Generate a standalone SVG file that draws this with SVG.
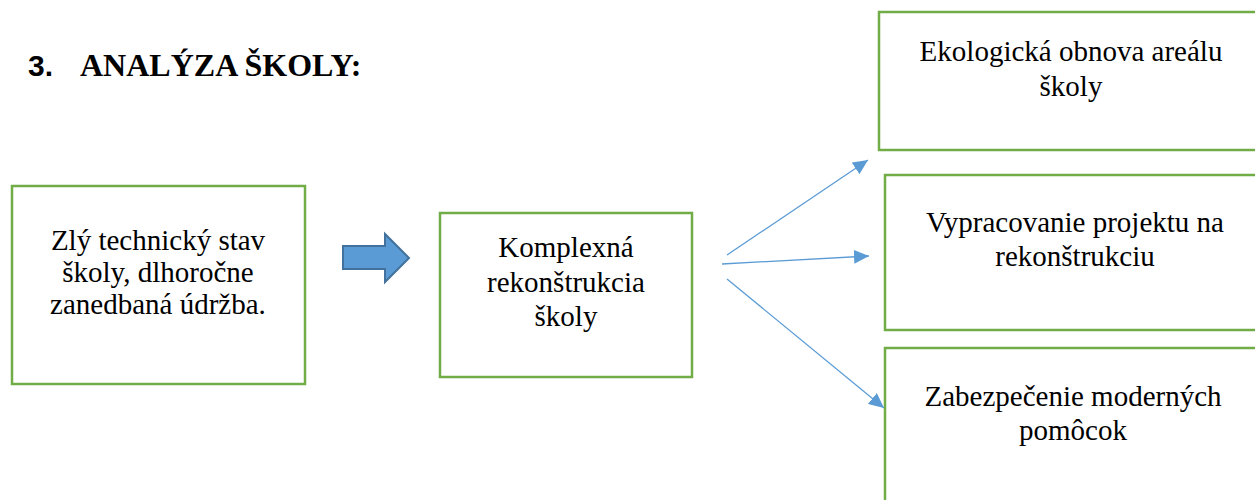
<svg xmlns="http://www.w3.org/2000/svg" width="1255" height="500" viewBox="0 0 1255 500">
<style>
.box{fill:#fff;stroke:#70ad47;stroke-width:2.5}
.c{stroke:#5b9bd5;stroke-width:1.3;fill:none}
</style>
<defs>
<marker id="a" viewBox="0 0 15 14" refX="15" refY="7" markerWidth="15" markerHeight="14" orient="auto" markerUnits="userSpaceOnUse">
<path d="M0,0 L15,7 L0,14 z" fill="#5b9bd5"/>
</marker>
</defs>
<g id="title">
<text x="28" y="76" font-family="Liberation Sans, Arial, sans-serif" font-weight="bold" font-size="30">3.</text>
<text x="80" y="76" font-family="Liberation Serif, Times New Roman, serif" font-weight="bold" font-size="32">ANALÝZA ŠKOLY:</text>
</g>
<g font-family="Liberation Serif, Times New Roman, serif" font-size="29" fill="#000" text-anchor="middle">
<g id="n1">
<rect class="box" x="12" y="186" width="293" height="198"/>
<text x="158" y="250">Zlý technický stav</text>
<text x="158" y="282">školy, dlhoročne</text>
<text x="158" y="314">zanedbaná údržba.</text>
</g>
<g id="n2">
<rect class="box" x="440" y="213" width="252" height="164"/>
<text x="566" y="257">Komplexná</text>
<text x="566" y="292">rekonštrukcia</text>
<text x="566" y="326">školy</text>
</g>
<g id="n3">
<rect class="box" x="879" y="12" width="390" height="138"/>
<text x="1071" y="61">Ekologická obnova areálu</text>
<text x="1071" y="96">školy</text>
</g>
<g id="n4">
<rect class="box" x="885" y="175" width="384" height="155"/>
<text x="1075" y="232">Vypracovanie projektu na</text>
<text x="1075" y="266">rekonštrukciu</text>
</g>
<g id="n5">
<rect class="box" x="885" y="348" width="384" height="170"/>
<text x="1073" y="406">Zabezpečenie moderných</text>
<text x="1073" y="440">pomôcok</text>
</g>
</g>
<g id="blockarrow">
<path d="M343,246 L385,246 L385,234 L409,258 L385,282 L385,269 L343,269 Z" fill="#5b9bd5" stroke="#41719c" stroke-width="2"/>
</g>
<g id="connectors">
<line class="c" x1="727" y1="255" x2="868" y2="160" marker-end="url(#a)"/>
<line class="c" x1="722" y1="264" x2="869" y2="256" marker-end="url(#a)"/>
<line class="c" x1="727" y1="279" x2="884" y2="408" marker-end="url(#a)"/>
</g>
</svg>
